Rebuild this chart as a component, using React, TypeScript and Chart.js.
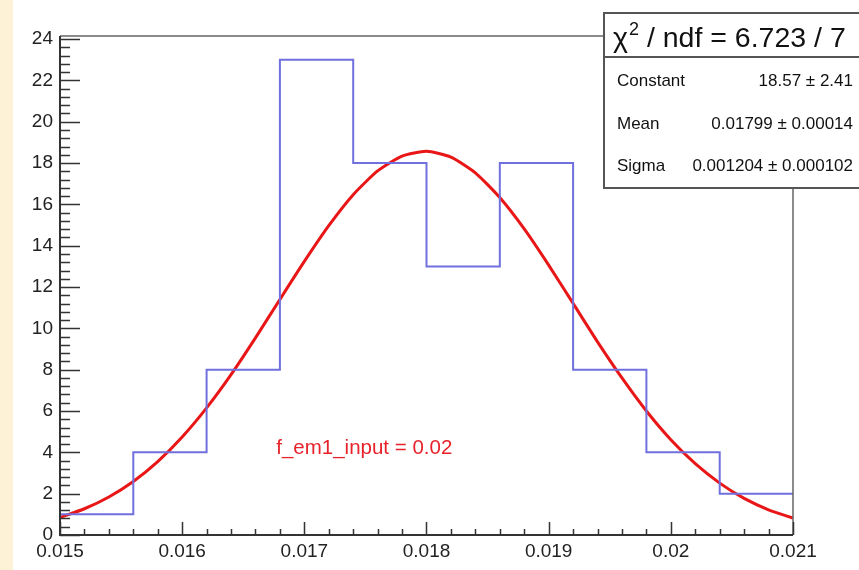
import React, { useEffect, useRef } from "react";
import { Chart, registerables } from "chart.js";

Chart.register(...registerables);

// Histogram bin edges and counts
const HIST_EDGES = [0.015, 0.0156, 0.0162, 0.0168, 0.0174, 0.018, 0.0186, 0.0192, 0.0198, 0.0204, 0.021];
const HIST_COUNTS = [1, 4, 8, 23, 18, 13, 18, 8, 4, 2];

// Gaussian fit curve
const FIT_X = [
  0.015, 0.0152, 0.0154, 0.0156, 0.0158, 0.016, 0.0162, 0.0164, 0.0166, 0.0168,
  0.017, 0.0172, 0.0174, 0.0176, 0.0178, 0.018, 0.0182, 0.0184, 0.0186, 0.0188,
  0.019, 0.0192, 0.0194, 0.0196, 0.0198, 0.02, 0.0202, 0.0204, 0.0206, 0.0208, 0.021,
];
const FIT_Y = [
  0.85, 1.27, 1.84, 2.59, 3.55, 4.74, 6.15, 7.76, 9.54, 11.4,
  13.24, 14.97, 16.47, 17.62, 18.34, 18.57, 18.29, 17.53, 16.33, 14.81,
  13.06, 11.21, 9.35, 7.6, 6.0, 4.61, 3.45, 2.51, 1.77, 1.22, 0.82,
];

const X_TICKS = [0.015, 0.016, 0.017, 0.018, 0.019, 0.02, 0.021];
const Y_TICKS = [0, 2, 4, 6, 8, 10, 12, 14, 16, 18, 20, 22, 24];

const STATS_TITLE = " / ndf = 6.723 / 7";
const STATS_ROWS = [
  ["Constant", "18.57 \u00b1 2.41"],
  ["Mean", "0.01799 \u00b1 0.00014"],
  ["Sigma", "0.001204 \u00b1 0.000102"],
];
const NOTE = "f_em1_input = 0.02";
const NOTE_X = 0.01677;
const NOTE_Y = 4.2;

const FONT = '"Liberation Sans", Arial, Helvetica, sans-serif';

const decorPlugin = {
  id: "decor",
  beforeDraw(chart: any) {
    const ctx = chart.ctx;
    ctx.save();
    ctx.fillStyle = "#ffffff";
    ctx.fillRect(0, 0, chart.width, chart.height);
    ctx.fillStyle = "#FDF2D6";
    ctx.fillRect(0, 0, 13, chart.height);
    ctx.restore();
  },
  afterDatasetsDraw(chart: any) {
    const ctx = chart.ctx;
    const xs = chart.scales.x;
    const ys = chart.scales.y;
    const { left, right, top, bottom } = chart.chartArea;
    ctx.save();
    // frame top / right
    ctx.strokeStyle = "#666";
    ctx.lineWidth = 1.5;
    ctx.beginPath();
    ctx.moveTo(left, top);
    ctx.lineTo(right, top);
    ctx.lineTo(right, bottom);
    ctx.stroke();
    // axes
    ctx.strokeStyle = "#333";
    ctx.lineWidth = 2;
    ctx.beginPath();
    ctx.moveTo(left, top);
    ctx.lineTo(left, bottom);
    ctx.lineTo(right, bottom);
    ctx.stroke();
    // y ticks
    ctx.lineWidth = 1.5;
    ctx.beginPath();
    for (let i = 0; i <= 60; i++) {
      const v = i * 0.4;
      const py = Math.round(ys.getPixelForValue(v)) + 0.5;
      const len = i % 5 === 0 ? 20 : 10;
      ctx.moveTo(left, py);
      ctx.lineTo(left + len, py);
    }
    // x ticks
    for (let i = 0; i <= 30; i++) {
      const v = 0.015 + i * 0.0002;
      const px = Math.round(xs.getPixelForValue(v)) + 0.5;
      const len = i % 5 === 0 ? 13 : 6;
      ctx.moveTo(px, bottom);
      ctx.lineTo(px, bottom - len);
    }
    ctx.stroke();
    // note
    ctx.fillStyle = "#E8222A";
    ctx.font = `20.5px ${FONT}`;
    ctx.textAlign = "left";
    ctx.textBaseline = "middle";
    ctx.fillText(NOTE, xs.getPixelForValue(NOTE_X), ys.getPixelForValue(NOTE_Y));
    ctx.restore();
  },
  afterDraw(chart: any) {
    const ctx = chart.ctx;
    ctx.save();
    const bx = 604, by = 13, bw = 280, bh = 175;
    ctx.fillStyle = "#fff";
    ctx.fillRect(bx, by, bw, bh);
    ctx.strokeStyle = "#555";
    ctx.lineWidth = 2;
    ctx.strokeRect(bx, by, bw, bh);
    ctx.beginPath();
    ctx.moveTo(bx, 57);
    ctx.lineTo(bx + bw, 57);
    ctx.stroke();
    // title
    ctx.fillStyle = "#111";
    ctx.textBaseline = "alphabetic";
    ctx.textAlign = "left";
    let x = 613;
    const base = 47;
    ctx.font = `28.5px ${FONT}`;
    ctx.fillText("\u03c7", x, base);
    x += ctx.measureText("\u03c7").width + 1;
    ctx.font = `18px ${FONT}`;
    ctx.fillText("2", x, base - 12);
    x += ctx.measureText("2").width;
    ctx.font = `28.5px ${FONT}`;
    ctx.fillText(STATS_TITLE, x, base);
    // rows
    ctx.font = `17px ${FONT}`;
    ctx.textBaseline = "middle";
    const rowY = [81, 124, 166];
    STATS_ROWS.forEach((r, i) => {
      ctx.textAlign = "left";
      ctx.fillText(r[0], 617, rowY[i]);
      ctx.textAlign = "right";
      ctx.fillText(r[1], 853, rowY[i]);
    });
    ctx.restore();
  },
};

export default function App() {
  const ref = useRef<HTMLCanvasElement | null>(null);
  useEffect(() => {
    document.body.style.margin = "0";
    const canvas = ref.current!;
    const histData: { x: number; y: number }[] = HIST_COUNTS.map((c, i) => ({ x: HIST_EDGES[i], y: c }));
    histData.push({ x: HIST_EDGES[HIST_EDGES.length - 1], y: HIST_COUNTS[HIST_COUNTS.length - 1] });
    const fitData = FIT_X.map((x, i) => ({ x, y: FIT_Y[i] }));
    const chart = new Chart(canvas, {
      type: "line",
      data: {
        datasets: [
          {
            label: "hist",
            data: histData,
            stepped: "before",
            borderColor: "rgb(112,112,222)",
            borderWidth: 2,
            pointRadius: 0,
            fill: false,
          },
          {
            label: "fit",
            data: fitData,
            borderColor: "rgb(232,22,22)",
            borderWidth: 3,
            pointRadius: 0,
            tension: 0.2,
            fill: false,
          },
        ],
      },
      options: {
        animation: false,
        responsive: false,
        maintainAspectRatio: false,
        events: [],
        layout: { padding: { left: 0, right: 66, top: 36, bottom: 0 } },
        plugins: { legend: { display: false }, tooltip: { enabled: false } },
        scales: {
          x: {
            type: "linear",
            min: 0.015,
            max: 0.021,
            grid: { display: false, drawTicks: false },
            border: { display: false },
            afterBuildTicks: (s: any) => {
              s.ticks = X_TICKS.map((v) => ({ value: v }));
            },
            afterFit: (s: any) => {
              s.height = 35;
            },
            ticks: {
              autoSkip: false,
              maxRotation: 0,
              padding: 5,
              color: "#222",
              font: { family: FONT, size: 19 },
              callback: (v: any) => String(Number(Number(v).toFixed(4))),
            },
          },
          y: {
            type: "linear",
            min: 0,
            max: 24.15,
            grid: { display: false, drawTicks: false },
            border: { display: false },
            afterBuildTicks: (s: any) => {
              s.ticks = Y_TICKS.map((v) => ({ value: v }));
            },
            afterFit: (s: any) => {
              s.width = 60;
            },
            ticks: {
              autoSkip: false,
              padding: 7,
              color: "#222",
              font: { family: FONT, size: 19 },
              callback: (v: any) => String(v),
            },
          },
        },
      },
      plugins: [decorPlugin],
    });
    return () => chart.destroy();
  }, []);
  return <canvas ref={ref} width={859} height={570} style={{ display: "block" }} />;
}
